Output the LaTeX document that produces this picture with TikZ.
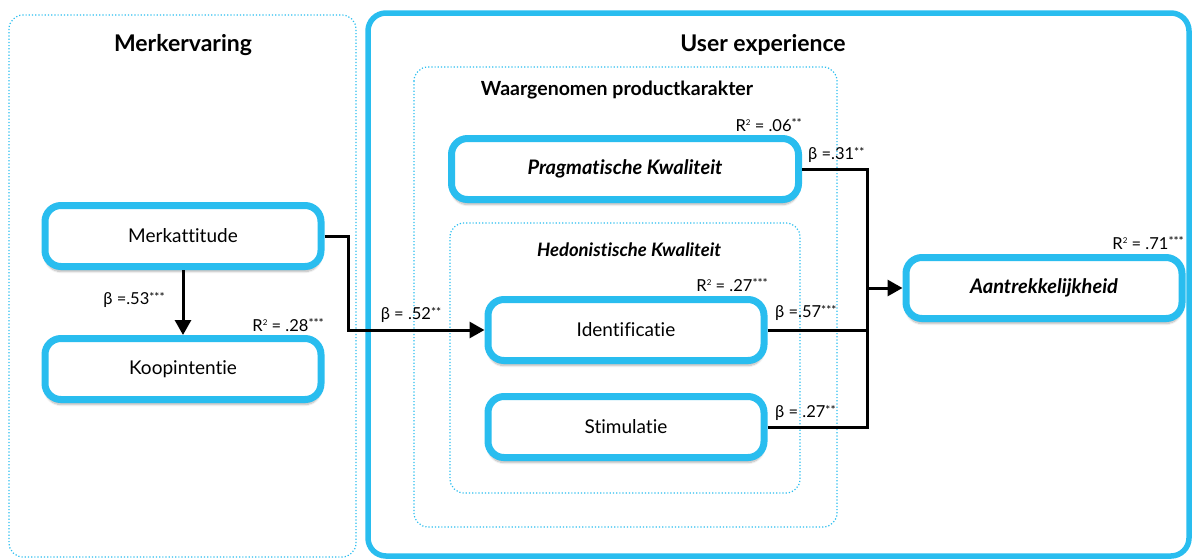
\documentclass[tikz,border=0pt]{standalone}
\usepackage{fontspec}
\setmainfont{Lato}[Ligatures=NoCommon]
\usetikzlibrary{arrows.meta,shadows.blur}
\definecolor{uxblue}{RGB}{41,189,239}
\newcommand{\sig}[1]{\raisebox{0.45ex}{\fontsize{12}{12}\selectfont #1}}
\newcommand{\rsq}{R\raisebox{0.7ex}{\fontsize{8}{8}\selectfont 2}}

\tikzset{
  construct/.style={draw=uxblue, line width=7pt, rounded corners=16pt, fill=white,
    minimum width=276pt, minimum height=61pt, inner sep=0pt,
    font=\fontsize{19}{22}\selectfont,
    blur shadow={shadow blur steps=8, shadow xshift=0pt, shadow yshift=-5pt, shadow opacity=30}},
  latent/.style={construct, font=\fontsize{20}{22}\selectfont\bfseries\itshape},
  groupbox/.style={draw=uxblue, dotted, line width=1.2pt, rounded corners=14pt},
  effect/.style={line width=3pt, -{Triangle[length=15pt,width=16pt]}},
  link/.style={line width=3pt},
  coef/.style={font=\fontsize{16.5}{18}\selectfont, inner sep=0pt},
  heading/.style={font=\fontsize{23}{26}\selectfont\bfseries, inner sep=0pt},
}

\begin{document}
\begin{tikzpicture}[x=1pt,y=-1pt]
\useasboundingbox (0,0) rectangle (1194,558);
% groups
\path[groupbox] (9,15) rectangle (356,557);
\path[draw=uxblue, line width=5.5pt, rounded corners=18pt] (368,13) rectangle (1189,556);
\path[groupbox] (414,67) rectangle (837,527);
\path[groupbox] (450,223) rectangle (800,493);
\node[heading] (tmerk) at (183,45) {Merkervaring};
\node[heading] (tux) at (763,45) {User experience};
\node[font=\fontsize{19.5}{22}\selectfont\bfseries, inner sep=0pt] (tprod) at (617,90) {Waargenomen productkarakter};
\node[font=\fontsize{18.5}{22}\selectfont\bfseries\itshape, inner sep=0pt] (thed) at (629,250) {Hedonistische Kwaliteit};
% constructs
\node[construct] (merk) at (183,236) {Merkattitude};
\node[construct] (koop) at (183,369) {Koopintentie};
\node[latent, minimum width=347pt] (prag) at (625,169) {Pragmatische Kwaliteit};
\node[construct] (iden) at (626,330) {Identificatie};
\node[construct] (stim) at (626,427) {Stimulatie};
\node[latent] (aant) at (1044,288) {Aantrekkelijkheid};
% paths
\coordinate (joint) at (867,288);
\draw[effect] (merk.south) -- (koop.north);
\draw[effect] (merk.east) -| (348,330) -- (iden.west);
\draw[link] (prag.east) -| (joint);
\draw[link] (iden.east) -| (joint);
\draw[link] (stim.east) -| (joint);
\draw[effect] (joint) -- (aant.west);
% coefficients
\node[coef] (b53) at (134,300) {β =.53\sig{***}};
\node[coef, anchor=east] (r28) at (324,325) {\rsq{} = .28\sig{***}};
\node[coef] (b52) at (411,315) {β = .52\sig{**}};
\node[coef, anchor=east] (r06) at (802,125) {\rsq{} = .06\sig{**}};
\node[coef, anchor=east] (r27) at (768,285) {\rsq{} = .27\sig{***}};
\node[coef, anchor=west] (b31) at (808,155) {β =.31\sig{**}};
\node[coef, anchor=west] (b57) at (775,313) {β =.57\sig{***}};
\node[coef, anchor=west] (b27) at (775,413) {β = .27\sig{**}};
\node[coef, anchor=east] (r71) at (1184,243) {\rsq{} = .71\sig{***}};
\end{tikzpicture}
\end{document}
